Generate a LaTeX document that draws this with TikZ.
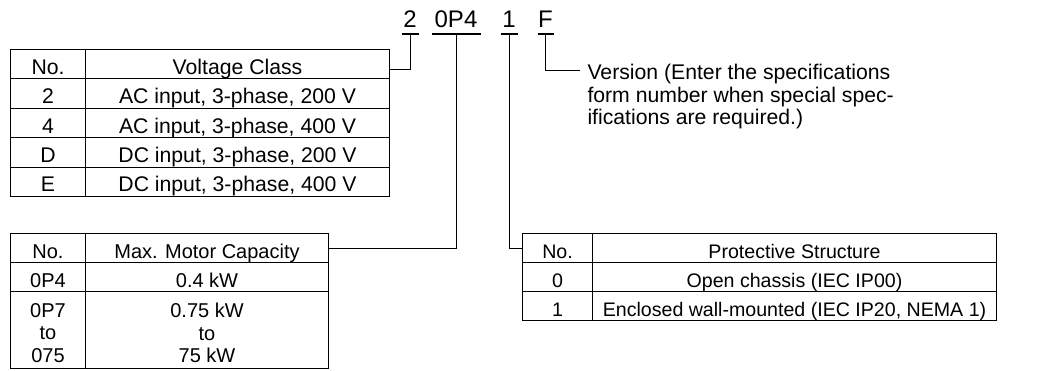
\documentclass[tikz,border=0pt]{standalone}
\usepackage{fontspec}
\setmainfont{Liberation Sans}
\usepackage{tikz}
\usetikzlibrary{calc,positioning}
\newcommand{\tabfnt}{\fontsize{10.6}{11.2}\selectfont}
\newcommand{\capfnt}{\fontsize{10}{11.2}\selectfont}
\newcommand{\protfnt}{\fontsize{9.8}{11}\selectfont}
\newcommand{\codefnt}{\fontsize{12}{14}\selectfont}
\tikzset{cell/.style={draw, inner sep=0pt, anchor=north west, font=\tabfnt, text height=10pt, text depth=0pt}}
\tikzset{tallcell/.style={draw, inner sep=0pt, anchor=north west}}
\tikzset{code/.style={inner sep=0pt, anchor=base, font=\codefnt, text depth=0pt}}

\begin{document}
\begin{tikzpicture}[x=0.5pt, y=-0.5pt, line width=0.5pt]
\useasboundingbox (0,0) rectangle (1043,370);

\node[code, minimum width=8pt] (c2) at (410,27) {2};
\node[code, minimum width=24pt] (c0P4) at (456,27) {0P4};
\node[code, minimum width=8pt] (c1) at (509,27) {1};
\node[code, minimum width=7.5pt] (cF) at (545.5,27) {F};
\foreach \c in {c2,c0P4,c1,cF}
  \draw[line width=1pt] ([yshift=-3.25pt]\c.south west) -- ([yshift=-3.25pt]\c.south east);

\foreach \no/\txt [count=\i] in {No./Voltage Class, 2/{AC input, 3-phase, 200 V}, 4/{AC input, 3-phase, 400 V}, D/{DC input, 3-phase, 200 V}, E/{DC input, 3-phase, 400 V}}{
  \node[cell, minimum width=37.5pt, minimum height=14.7pt] (vno\i) at (10,{49+29.4*(\i-1)}) {\no};
  \node[cell, minimum width=152pt, minimum height=14.7pt] (vtx\i) at (85,{49+29.4*(\i-1)}) {\txt};
}

\node[cell, font=\capfnt, minimum width=37.5pt, minimum height=14.5pt] (cno1) at (10,233) {No.};
\node[cell, font=\capfnt, minimum width=121.5pt, minimum height=14.5pt] (ctx1) at (85,233) {Max. Motor Capacity};
\node[cell, font=\capfnt, minimum width=37.5pt, minimum height=14.5pt] (cno2) at (10,262) {0P4};
\node[cell, font=\capfnt, minimum width=121.5pt, minimum height=14.5pt] (ctx2) at (85,262) {0.4 kW};
\node[tallcell, minimum width=37.5pt, minimum height=38.5pt] (cno3) at (10,291) {};
\node[tallcell, minimum width=121.5pt, minimum height=38.5pt] (ctx3) at (85,291) {};
\node[font=\capfnt, align=center, inner sep=0pt] (cno3t) at ([yshift=-1.5pt]cno3.center) {0P7\\to\\075};
\node[font=\capfnt, align=center, inner sep=0pt] (ctx3t) at ([yshift=-1.5pt]ctx3.center) {0.75 kW\\to\\75 kW};

\foreach \no/\txt [count=\i] in {No./Protective Structure, 0/{Open chassis (IEC IP00)}, 1/{Enclosed wall-mounted (IEC IP20, NEMA 1)}}{
  \node[cell, font=\protfnt, minimum width=35pt, minimum height=14.5pt] (pno\i) at (522,{233+29*(\i-1)}) {\no};
  \node[cell, font=\protfnt, minimum width=202pt, minimum height=14.5pt] (ptx\i) at (592,{233+29*(\i-1)}) {\txt};
}

\node[anchor=north west, inner sep=0pt, align=left, font=\tabfnt] (ver) at (587,64) {Version (Enter the specifications\\form number when special spec-\\ifications are required.)};
\coordinate (verin) at (580,70);

\draw ([yshift=-3.25pt]c2.south) |- ([yshift=-2.5pt]vtx1.east);
\draw ([yshift=-3.25pt]c0P4.south) |- (ctx1.east);
\draw ([yshift=-3.25pt]c1.south) |- (pno1.west);
\draw ([yshift=-3.25pt]cF.south) |- (verin);
\end{tikzpicture}
\end{document}
